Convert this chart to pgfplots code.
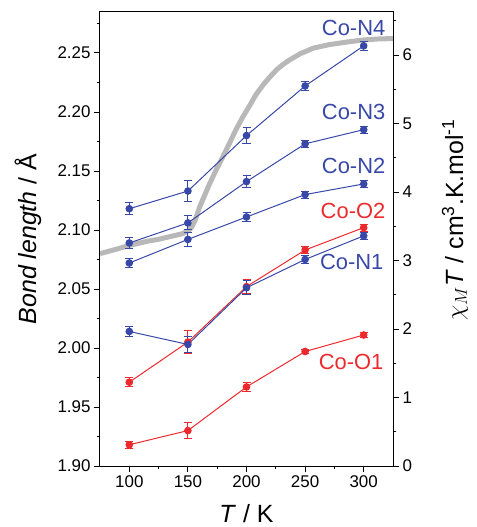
\documentclass[border=0pt]{standalone}
\usepackage{pgfplots}
\pgfplotsset{compat=1.18}
\usepackage{fontspec}
\setmainfont{Liberation Sans}
\definecolor{cblue}{HTML}{3848A8}
\definecolor{cred}{HTML}{EC2A2E}
\definecolor{cgray}{HTML}{B8B8B8}
\begin{document}
\begin{tikzpicture}
\pgfplotsset{
  base/.style={
    width=293bp, height=454bp, scale only axis,
    xmin=75, xmax=325,
    tick align=outside,
    major tick length=6bp, minor tick length=3bp,
    every tick/.style={black, line width=0.9bp},
    axis line style={line width=1bp},
    /pgf/number format/assume math mode=true,
    tick label style={font=\fontsize{17}{20}\selectfont},
  }
}
% right axis: chi_M T
\begin{axis}[base,
  axis x line=none,
  axis y line*=right,
  ymin=0, ymax=6.628,
  ytick={0,1,2,3,4,5,6}, minor ytick={0.5,1.5,2.5,3.5,4.5,5.5,6.5},
  ylabel={$\chi_M$\textit{T} / cm\textsuperscript{3}.K.mol\textsuperscript{-1}},
  ylabel style={font=\fontsize{25}{28}\selectfont, at={(axis description cs:1.2116,0.542)}, anchor=center},
]
\addplot[color=cgray, line width=5bp, line join=round, line cap=butt] coordinates {
(75,3.10) (90,3.17) (100,3.22) (115,3.28) (125,3.31) (135,3.35) (145,3.39) (150,3.43) (153,3.48) (156,3.58) (160,3.78) (164,3.94) (168,4.10) (174,4.32) (180,4.52) (186,4.73) (191,4.91) (197,5.10) (203,5.27) (208,5.42) (214,5.56) (220,5.68) (226,5.79) (231,5.86) (236,5.92) (246,6.02) (257,6.10) (270,6.15) (286,6.19) (300,6.22) (313,6.235) (325,6.24)
};
\end{axis}
% left axis: bond lengths
\begin{axis}[base,
  ymin=1.9, ymax=2.2847,
  xtick={100,150,200,250,300}, minor xtick={125,175,225,275},
  ytick={1.90,1.95,2.00,2.05,2.10,2.15,2.20,2.25},
  minor ytick={1.925,1.975,2.025,2.075,2.125,2.175,2.225,2.275},
  xtick pos=bottom, ytick pos=left,
  yticklabel style={/pgf/number format/.cd, fixed, fixed zerofill, precision=2},
  xlabel={\textit{T} / K},
  ylabel={\textit{Bond length} / Å},
  xlabel style={font=\fontsize{25}{28}\selectfont, at={(axis description cs:0.5,-0.1057)}, anchor=center},
  ylabel style={font=\fontsize{25}{28}\selectfont, at={(axis description cs:-0.2457,0.5)}, anchor=center},
  every axis plot/.append style={line width=1bp, mark=*, mark size=3.3bp,
    error bars/y dir=both, error bars/y explicit,
    error bars/error bar style={line width=1bp},
    error bars/error mark options={rotate=90, mark size=4bp, line width=1bp}},
]
\coordinate (bl) at (rel axis cs:0,0);
\coordinate (tr) at (rel axis cs:1,1);
% Co-O1
\addplot[color=cred, mark options={fill=cred}] coordinates {
(100,1.918) +- (0,0.003) (150,1.930) +- (0,0.007) (200,1.967) +- (0,0.004) (250,1.997) +- (0,0.002) (300,2.011) +- (0,0.002)};
% Co-O2
\addplot[color=cred, mark options={fill=cred}] coordinates {
(100,1.971) +- (0,0.004) (150,2.005) +- (0,0.010) (200,2.052) +- (0,0.006) (250,2.083) +- (0,0.003) (300,2.102) +- (0,0.003)};
% Co-N1
\addplot[color=cblue, mark options={fill=cblue}] coordinates {
(100,2.014) +- (0,0.004) (150,2.003) +- (0,0.007) (200,2.051) +- (0,0.006) (250,2.075) +- (0,0.003) (300,2.095) +- (0,0.003)};
% Co-N2
\addplot[color=cblue, mark options={fill=cblue}] coordinates {
(100,2.072) +- (0,0.004) (150,2.092) +- (0,0.006) (200,2.111) +- (0,0.004) (250,2.130) +- (0,0.003) (300,2.139) +- (0,0.003)};
% Co-N3
\addplot[color=cblue, mark options={fill=cblue}] coordinates {
(100,2.089) +- (0,0.005) (150,2.106) +- (0,0.006) (200,2.141) +- (0,0.005) (250,2.173) +- (0,0.003) (300,2.185) +- (0,0.003)};
% Co-N4
\addplot[color=cblue, mark options={fill=cblue}] coordinates {
(100,2.118) +- (0,0.005) (150,2.133) +- (0,0.009) (200,2.180) +- (0,0.007) (250,2.222) +- (0,0.004) (300,2.256) +- (0,0.004)};
\begin{scope}[every node/.style={font=\fontsize{22}{26}\selectfont, anchor=east, inner sep=0pt}]
\node[text=cblue] at (axis cs:318.6,2.2712) {Co-N4};
\node[text=cblue] at (axis cs:318.6,2.1996) {Co-N3};
\node[text=cblue] at (axis cs:318.6,2.1542) {Co-N2};
\node[text=cred]  at (axis cs:318.6,2.1161) {Co-O2};
\node[text=cblue] at (axis cs:317.0,2.0729) {Co-N1};
\node[text=cred]  at (axis cs:317.0,1.9881) {Co-O1};
\end{scope}
\end{axis}
\pgfresetboundingbox
\path ([shift={(-100bp,-61bp)}]bl) rectangle ([shift={(84bp,12bp)}]tr);
\end{tikzpicture}
\end{document}
